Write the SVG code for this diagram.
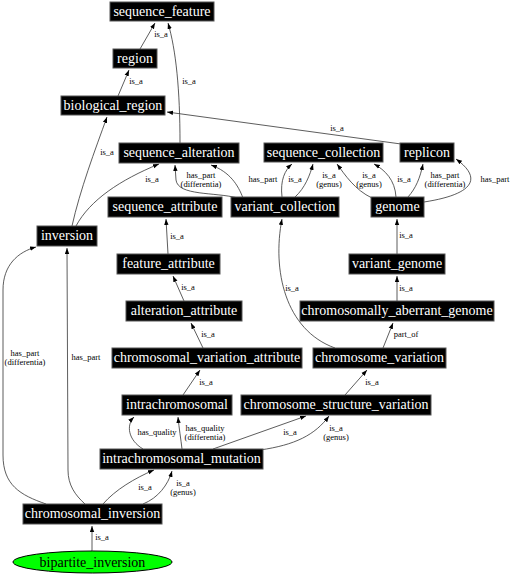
<svg xmlns="http://www.w3.org/2000/svg" width="514" height="576" viewBox="0 0 514 576">
<defs>
<marker id="ah" markerWidth="7" markerHeight="6" refX="6" refY="2.5" orient="auto" markerUnits="userSpaceOnUse"><path d="M0,0.3 L6,2.5 L0,4.7 z" fill="#000"/></marker>
<style>
.n rect{fill:#000;stroke:#555;stroke-width:1}
.n text{fill:#fff;font-family:"Liberation Serif",serif;font-size:14px;text-anchor:middle}
.e path{fill:none;stroke:#333;stroke-width:0.8;marker-end:url(#ah)}
.l text{font-family:"Liberation Serif",serif;font-size:8.5px;text-anchor:middle;fill:#000}
</style>
</defs>
<rect width="514" height="576" fill="#fff"/>
<g id="edges" class="e">
<path d="M140,49 L155,23"/>
<path d="M180,143 C180,90 176,50 168,23"/>
<path d="M118,96 L129,70"/>
<path d="M72,226 C80,190 95,150 107,117"/>
<path d="M76,226 C90,200 120,180 159,164"/>
<path d="M401,144 L167,112"/>
<path d="M238,198 C215,192 178,196 176,180 L175,165"/>
<path d="M243,198 C238,185 230,172 211,165"/>
<path d="M282,197 C280,180 285,170 292,164"/>
<path d="M295,197 C305,188 310,175 313,164"/>
<path d="M372,198 C355,190 345,175 337,164"/>
<path d="M396,197 C395,180 385,170 374,164"/>
<path d="M408,197 C416,188 420,178 423,164"/>
<path d="M424,202 C470,195 485,180 456,159"/>
<path d="M397,254 L397,219"/>
<path d="M397,301 L397,276"/>
<path d="M383,348 L393,323"/>
<path d="M335,348 C285,330 272,270 282,219"/>
<path d="M168,254 L166,219"/>
<path d="M184,301 L173,276"/>
<path d="M203,348 L191,323"/>
<path d="M183,395 L200,370"/>
<path d="M345,395 L367,370"/>
<path d="M143,449 C128,440 126,425 134,417"/>
<path d="M182,449 C181,440 179,428 178,417"/>
<path d="M213,449 L306,416"/>
<path d="M260,450 C295,445 315,435 329,416"/>
<path d="M103,504 C115,490 135,478 154,470"/>
<path d="M143,504 C158,498 168,485 172,471"/>
<path d="M46,504 C20,495 3,485 3,455 L3,290 C3,265 18,252 36,247"/>
<path d="M85,504 C75,495 68,485 68,470 L67,248"/>
<path d="M92,551 L92,526"/>
</g>
<g id="edge-labels" class="l">
<text x="161" y="37">is_a</text>
<text x="189" y="84">is_a</text>
<text x="136" y="84">is_a</text>
<text x="107" y="155">is_a</text>
<text x="152" y="182">is_a</text>
<text x="337" y="131">is_a</text>
<text x="201" y="177.5">has_part</text>
<text x="201" y="187">(differentia)</text>
<text x="263" y="182">has_part</text>
<text x="295" y="182">is_a</text>
<text x="329" y="177.5">is_a</text>
<text x="329" y="187">(genus)</text>
<text x="369" y="177.5">is_a</text>
<text x="369" y="187">(genus)</text>
<text x="404" y="182">is_a</text>
<text x="445" y="177.5">has_part</text>
<text x="445" y="187">(differentia)</text>
<text x="495" y="182">has_part</text>
<text x="406" y="238">is_a</text>
<text x="406" y="291">is_a</text>
<text x="292" y="291">is_a</text>
<text x="406" y="337">part_of</text>
<text x="177" y="239">is_a</text>
<text x="188" y="290">is_a</text>
<text x="208" y="337">is_a</text>
<text x="206" y="385">is_a</text>
<text x="372" y="385">is_a</text>
<text x="157" y="435">has_quality</text>
<text x="205" y="430.5">has_quality</text>
<text x="205" y="440">(differentia)</text>
<text x="290" y="435">is_a</text>
<text x="336" y="430.5">is_a</text>
<text x="336" y="440">(genus)</text>
<text x="145" y="490">is_a</text>
<text x="183" y="485.5">is_a</text>
<text x="183" y="495">(genus)</text>
<text x="25" y="355.5">has_part</text>
<text x="25" y="365">(differentia)</text>
<text x="86" y="360">has_part</text>
<text x="102" y="540">is_a</text>
</g>
<g id="sequence_feature" class="n"><rect x="110" y="2" width="104" height="19"/><text x="162" y="16">sequence_feature</text></g>
<g id="region" class="n"><rect x="113" y="49" width="44" height="19"/><text x="135" y="63">region</text></g>
<g id="biological_region" class="n"><rect x="61" y="96" width="104" height="19"/><text x="113" y="110">biological_region</text></g>
<g id="sequence_alteration" class="n"><rect x="119" y="143" width="120" height="20"/><text x="179" y="157">sequence_alteration</text></g>
<g id="sequence_collection" class="n"><rect x="264" y="143" width="119" height="19"/><text x="323.5" y="157">sequence_collection</text></g>
<g id="replicon" class="n"><rect x="400" y="143" width="54" height="19"/><text x="427" y="157">replicon</text></g>
<g id="variant_collection" class="n"><rect x="231" y="197" width="108" height="20"/><text x="285" y="211">variant_collection</text></g>
<g id="genome" class="n"><rect x="371" y="197" width="53" height="20"/><text x="397.5" y="211">genome</text></g>
<g id="sequence_attribute" class="n"><rect x="108" y="197" width="114" height="20"/><text x="165" y="211">sequence_attribute</text></g>
<g id="inversion" class="n"><rect x="37" y="226" width="60" height="20"/><text x="67" y="240">inversion</text></g>
<g id="feature_attribute" class="n"><rect x="117" y="254" width="103" height="20"/><text x="168.5" y="268">feature_attribute</text></g>
<g id="alteration_attribute" class="n"><rect x="126" y="301" width="116" height="20"/><text x="184" y="315">alteration_attribute</text></g>
<g id="chromosomal_variation_attribute" class="n"><rect x="112" y="348" width="190" height="20"/><text x="207" y="362">chromosomal_variation_attribute</text></g>
<g id="variant_genome" class="n"><rect x="349" y="254" width="96" height="20"/><text x="397" y="268">variant_genome</text></g>
<g id="chromosomally_aberrant_genome" class="n"><rect x="300" y="301" width="194" height="20"/><text x="397" y="315">chromosomally_aberrant_genome</text></g>
<g id="chromosome_variation" class="n"><rect x="313" y="348" width="133" height="20"/><text x="379.5" y="362">chromosome_variation</text></g>
<g id="intrachromosomal" class="n"><rect x="122" y="395" width="110" height="20"/><text x="177" y="409">intrachromosomal</text></g>
<g id="chromosome_structure_variation" class="n"><rect x="241" y="395" width="190" height="20"/><text x="336" y="409">chromosome_structure_variation</text></g>
<g id="intrachromosomal_mutation" class="n"><rect x="100" y="449" width="163" height="20"/><text x="181.5" y="463">intrachromosomal_mutation</text></g>
<g id="chromosomal_inversion" class="n"><rect x="23" y="504" width="139" height="20"/><text x="92.5" y="518">chromosomal_inversion</text></g>
<g id="bipartite_inversion"><ellipse cx="92.5" cy="562" rx="79.5" ry="11" fill="#00ff00" stroke="#000" stroke-width="1"/><text x="92.5" y="566.5" font-family="Liberation Serif, serif" font-size="14" text-anchor="middle" fill="#000">bipartite_inversion</text></g>
</svg>
